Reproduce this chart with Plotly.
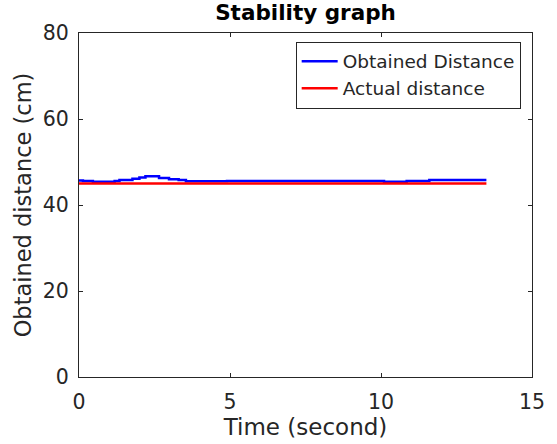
import plotly.graph_objects as go

t_obt = [0, 0.13, 0.46, 0.92, 1.18, 1.34, 1.77, 2.0, 2.2, 2.42, 2.65, 2.98, 3.3, 3.54, 4.85, 4.9, 10.09, 10.1, 10.84, 10.85, 11.56, 11.6, 13.49]
d_obt = [45.7, 45.6, 45.4, 45.4, 45.6, 45.8, 46.1, 46.4, 46.7, 46.7, 46.3, 46.0, 45.8, 45.5, 45.5, 45.6, 45.6, 45.4, 45.4, 45.6, 45.6, 45.8, 45.8]
t_act = [0, 13.49]
d_act = [45, 45]

FONT = "DejaVu Sans"
TXT = "#262626"

fig = go.Figure()
fig.add_trace(go.Scatter(x=t_obt, y=d_obt, mode="lines", name="Obtained Distance",
                         line=dict(color="#0000ff", width=2.5, shape="hv")))
fig.add_trace(go.Scatter(x=t_act, y=d_act, mode="lines", name="Actual distance",
                         line=dict(color="#ff0000", width=2.5)))

axis_common = dict(showgrid=False, zeroline=False, showline=True, mirror="ticks",
                   linecolor="#262626", linewidth=1, ticks="inside", ticklen=4,
                   tickcolor="#262626", tickfont=dict(family=FONT, size=20.5, color=TXT))
fig.update_xaxes(range=[0, 15], tickvals=[0, 5, 10, 15], ticklabelstandoff=6,
                 title=dict(text="Time (second)", font=dict(family=FONT, size=23, color=TXT), standoff=2),
                 **axis_common)
fig.update_yaxes(range=[0, 80], tickvals=[0, 20, 40, 60, 80], ticklabelstandoff=5,
                 title=dict(text="Obtained distance (cm)", font=dict(family=FONT, size=22.5, color=TXT), standoff=4),
                 **axis_common)

fig.update_layout(
    width=557, height=444,
    margin=dict(l=79, r=20, t=33, b=65),
    paper_bgcolor="white", plot_bgcolor="white",
    title=dict(text="<b>Stability graph</b>", x=0.5, xanchor="center", xref="paper",
               y=1 - 5 / 444, yref="container", yanchor="top", pad=dict(t=0),
               font=dict(family=FONT, size=21.5, color="black")),
    legend=dict(x=0.975, y=0.975, xanchor="right", yanchor="top",
                bgcolor="white", bordercolor="#262626", borderwidth=1,
                font=dict(family=FONT, size=18.5, color=TXT),
                tracegroupgap=0, itemwidth=36),
    showlegend=True,
)

fig.write_html("out.html")
